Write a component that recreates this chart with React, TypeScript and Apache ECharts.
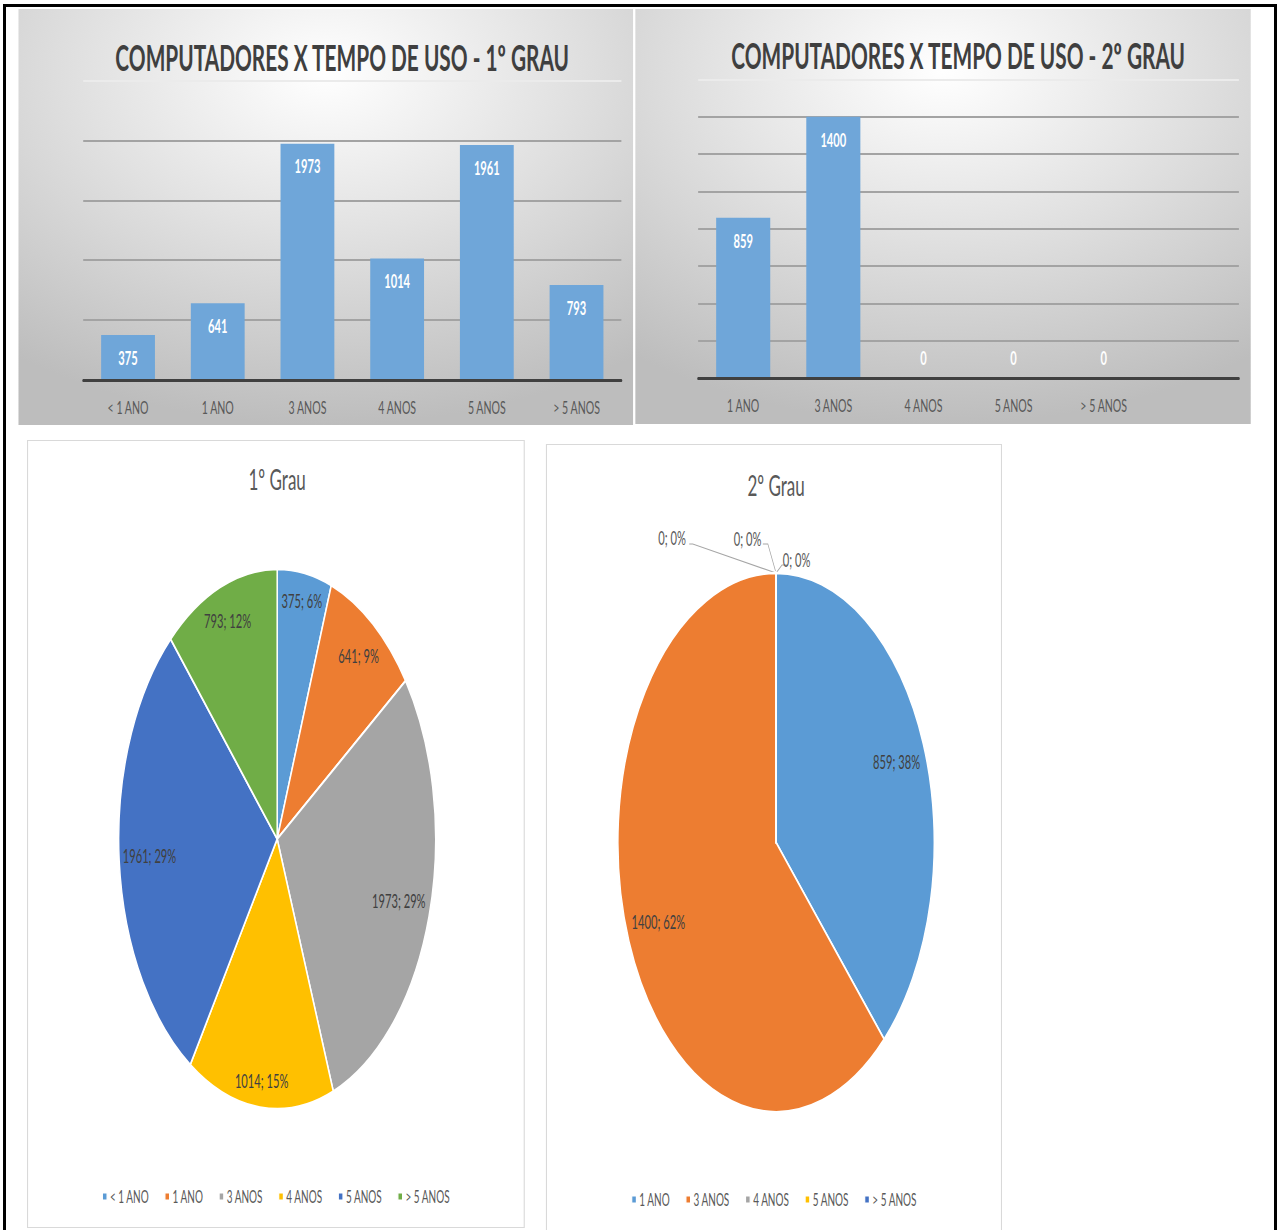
import React, { useEffect, useRef } from 'react';
import * as echarts from 'echarts';

// The reference is horizontally squeezed: everything is laid out in an
// unsqueezed space and shrunk back with a CSS scaleX.
const S = 0.587;
const U = (x: number) => x / S;
const FONT = 'Lato, "Liberation Sans", sans-serif';

// ---------- data ----------
const barTitle1 = 'COMPUTADORES X TEMPO DE USO - 1º GRAU';
const barCats1 = ['< 1 ANO', '1 ANO', '3 ANOS', '4 ANOS', '5 ANOS', '> 5 ANOS'];
const barVals1 = [375, 641, 1973, 1014, 1961, 793];

const barTitle2 = 'COMPUTADORES X TEMPO DE USO - 2º GRAU';
const barCats2 = ['1 ANO', '3 ANOS', '4 ANOS', '5 ANOS', '> 5 ANOS', ''];
const barVals2: (number | null)[] = [859, 1400, 0, 0, 0, null];

const pieTitle1 = '1º Grau';
const pieCats1 = ['< 1 ANO', '1 ANO', '3 ANOS', '4 ANOS', '5 ANOS', '> 5 ANOS'];
const pieVals1 = [375, 641, 1973, 1014, 1961, 793];

const pieTitle2 = '2º Grau';
const pieCats2 = ['1 ANO', '3 ANOS', '4 ANOS', '5 ANOS', '> 5 ANOS'];
const pieVals2 = [859, 1400, 0, 0, 0];

const PIE_COLORS = ['#5B9BD5', '#ED7D31', '#A5A5A5', '#FFC000', '#4472C4', '#70AD47'];

// ---------- option builders ----------
function barOption(
  title: string, cats: string[], vals: (number | null)[], max: number, interval: number,
  grid: { left: number; right: number; top: number; bottom: number },
  titleX: number, titleY: number
) {
  const nTicks = max / interval + 1;
  const lineColors = Array.from({ length: nTicks }, (_, i) => (i === nTicks - 1 ? '#ebebeb' : '#a3a3a3'));
  return {
    animation: false,
    backgroundColor: {
      type: 'radial', x: 0.5, y: 0.15, r: 0.85,
      colorStops: [
        { offset: 0, color: '#ffffff' },
        { offset: 0.45, color: '#e2e2e2' },
        { offset: 1, color: '#bdbdbd' },
      ],
    },
    title: {
      text: title, left: titleX, top: titleY, padding: 0,
      textAlign: 'center', textVerticalAlign: 'middle',
      textStyle: { fontFamily: FONT, fontSize: 35.5, fontWeight: 'bold', color: '#3f3f3f' },
    },
    grid: { ...grid, containLabel: false },
    xAxis: {
      type: 'category', data: cats, z: 5,
      axisTick: { show: false },
      axisLine: { lineStyle: { color: '#404040', width: 3 } },
      axisLabel: { interval: 0, color: '#595959', fontSize: 18, margin: 18, fontFamily: FONT },
    },
    yAxis: {
      type: 'value', min: 0, max, interval,
      axisLabel: { show: false }, axisLine: { show: false }, axisTick: { show: false },
      splitLine: { lineStyle: { color: lineColors, width: 2 } },
    },
    series: [
      {
        type: 'bar', silent: true, barWidth: '60%',
        itemStyle: { color: '#6FA6D9' },
        label: {
          show: true, position: 'insideTop', distance: 13, color: '#ffffff',
          fontWeight: 'bold', fontSize: 19, fontFamily: FONT,
        },
        data: vals.map((v) => (v === 0 ? { value: 0, label: { position: 'top', distance: 11 } } : v)),
      },
    ],
  };
}

// Emulates Excel's "inside end" data labels: push each label outwards along
// the slice bisector until its box touches the rim.
function insideEnd(cx: number, cy: number, R: number) {
  return (p: any) => {
    const r = p.labelRect;
    const lx = r.x + r.width / 2;
    const ly = r.y + r.height / 2;
    const th = Math.atan2(ly - cy, lx - cx);
    const c = Math.cos(th);
    const s = Math.sin(th);
    const t = R - 5 - (Math.abs(c) * r.width / 2 + Math.abs(s) * (r.height / 2 + 8));
    return { x: cx + t * c, y: cy + t * s, align: 'center', verticalAlign: 'middle' };
  };
}

function pieOption(
  title: string, cats: string[], vals: number[], colors: string[],
  cx: number, cy: number, R: number, titleX: number, titleY: number, legendTop: number,
  zeroLabels?: { dx: number; dy: number; line: number[][] }[]
) {
  const base = insideEnd(cx, cy, R);
  let zi = 0;
  const zeroIndex: Record<number, number> = {};
  vals.forEach((v, i) => { if (v === 0) zeroIndex[i] = zi++; });
  return {
    animation: false,
    backgroundColor: '#ffffff',
    color: colors,
    title: {
      text: title, left: titleX, top: titleY, padding: 0,
      textAlign: 'center', textVerticalAlign: 'middle',
      textStyle: { fontFamily: FONT, fontSize: 29, fontWeight: 'normal', color: '#595959' },
    },
    legend: {
      data: cats, left: 'center', top: legendTop, icon: 'rect',
      itemWidth: 8, itemHeight: 8, itemGap: 26, selectedMode: false,
      textStyle: { fontFamily: FONT, fontSize: 17, color: '#595959' },
    },
    series: [
      {
        type: 'pie', silent: true, center: [cx, cy], radius: R,
        startAngle: 90, clockwise: true, avoidLabelOverlap: false,
        percentPrecision: 0,
        itemStyle: { borderColor: '#ffffff', borderWidth: 2.5 },
        label: {
          show: true, position: 'inside', formatter: '{c}; {d}%',
          color: '#404040', fontSize: 19, fontFamily: FONT,
        },
        labelLine: { show: false },
        labelLayout: (p: any) => {
          const k = zeroIndex[p.dataIndex];
          if (k !== undefined && zeroLabels && zeroLabels[k]) {
            const z = zeroLabels[k];
            const tx = cx;
            const ty = cy - R;
            return {
              x: tx + z.dx, y: ty + z.dy, align: 'center', verticalAlign: 'middle',
              labelLinePoints: z.line.map(([a, b]) => [tx + a, ty + b]),
            };
          }
          return base(p);
        },
        data: cats.map((n, i) =>
          vals[i] === 0
            ? {
                name: n, value: 0,
                label: { position: 'outside', color: '#595959' },
                labelLine: { show: true, lineStyle: { color: '#a6a6a6', width: 1.2 } },
              }
            : { name: n, value: vals[i] }
        ),
      },
    ],
  };
}

// ---------- components ----------
function Chart({ option, style }: { option: any; style: React.CSSProperties }) {
  const ref = useRef<HTMLDivElement>(null);
  useEffect(() => {
    const chart = echarts.init(ref.current!, null, { renderer: 'svg' });
    chart.setOption(option);
    return () => chart.dispose();
  }, []);
  return <div ref={ref} style={style} />;
}

export default function App() {
  const bar1 = barOption(barTitle1, barCats1, barVals1, 2500, 500,
    { left: U(65), right: U(12), top: 71.5, bottom: 45 }, U(324), 48);
  const bar2 = barOption(barTitle2, barCats2, barVals2, 1600, 200,
    { left: U(63), right: U(12), top: 70.5, bottom: 46 }, U(323), 46);
  const pie1 = pieOption(pieTitle1, pieCats1, pieVals1, PIE_COLORS,
    U(249), 398, 270, U(249), 38, 742);
  const pie2 = pieOption(pieTitle2, pieCats2, pieVals2, PIE_COLORS,
    U(229), 397.5, 269.5, U(229), 40, 741, [
      { dx: -177, dy: -35, line: [[0, 0], [-142, -29], [-148, -29]] },
      { dx: -48.5, dy: -34, line: [[-1, -2], [-14, -29], [-22.6, -29]] },
      { dx: 35, dy: -13, line: [[0, 0], [10, -8], [19, -8]] },
    ]);

  const pieBox: React.CSSProperties = {
    position: 'absolute', boxSizing: 'border-box',
    border: '1px solid #d9d9d9', borderLeftWidth: 2, borderRightWidth: 2,
  };

  return (
    <div style={{ position: 'absolute', left: 0, top: 0, width: 1277, height: 1230, overflow: 'hidden', background: '#ffffff' }}>
      <div style={{ position: 'absolute', left: 0, top: 0, width: U(1277), height: 1230, transform: `scaleX(${S})`, transformOrigin: '0 0' }}>
        <Chart option={bar1} style={{ position: 'absolute', left: U(18), top: 9, width: U(615), height: 416 }} />
        <Chart option={bar2} style={{ position: 'absolute', left: U(635), top: 9, width: U(616), height: 415 }} />
        <Chart option={pie1} style={{ ...pieBox, left: U(27), top: 440, width: U(498), height: 788 }} />
        <Chart option={pie2} style={{ ...pieBox, left: U(546), top: 444, width: U(456), height: 792 }} />
      </div>
      <div style={{ position: 'absolute', left: 3, top: 4, width: 1274, height: 1240, border: '3px solid #000', boxSizing: 'border-box', pointerEvents: 'none' }} />
    </div>
  );
}
